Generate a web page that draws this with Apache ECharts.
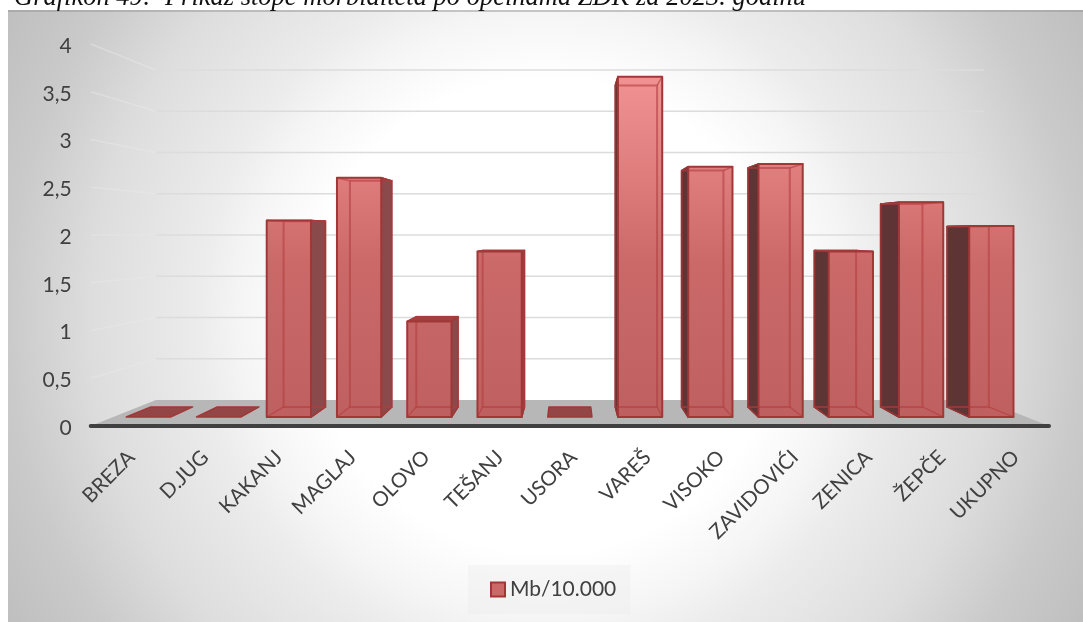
<!DOCTYPE html>
<html>
<head>
<meta charset="utf-8">
<style>html,body{margin:0;padding:0;background:#fff}#c{width:1083px;height:622px}</style>
<script src="https://cdn.jsdelivr.net/npm/echarts@6/dist/echarts.min.js"></script>
</head>
<body>
<div id="c"></div>
<script>
const titleText = 'Grafikon 49:  Prikaz stope morbiditeta po općinama ZDK za 2023. godinu';
const seriesName = 'Mb/10.000';
const categories = ['BREZA','D.JUG','KAKANJ','MAGLAJ','OLOVO','TEŠANJ','USORA','VAREŠ','VISOKO','ZAVIDOVIĆI','ZENICA','ŽEPČE','UKUPNO'];
const values = [0, 0, 2.16, 2.63, 1.05, 1.82, 0, 3.74, 2.75, 2.78, 1.82, 2.36, 2.10];
const yTicks = [0, 0.5, 1, 1.5, 2, 2.5, 3, 3.5, 4];

const BACK_S = 0.864, BAR_FRONT_S = 0.953, BAR_BACK_S = 0.90, HORIZON_VALUE = 2, BAR_FRAC = 0.315;

const chart = echarts.init(document.getElementById('c'), null, {renderer:'canvas'});

function projector(params, api) {
  const cs = params.coordSys;
  const cx = cs.x + cs.width / 2;
  const hy = api.coord([0, HORIZON_VALUE])[1];
  return (X, Y, s) => [cx + (X - cx) * s, hy + (Y - hy) * s];
}

const frontFill = new echarts.graphic.LinearGradient(0, 77, 0, 417, [
  {offset:0, color:'#f19292'}, {offset:0.3, color:'#de7c7c'},
  {offset:0.55, color:'#cb6969'}, {offset:1, color:'#bf6060'}], true);

function renderBar(params, api) {
  const P = projector(params, api);
  const c = api.coord([api.value(0), api.value(1)]);
  const y0 = api.coord([api.value(0), 0])[1];
  const hw = api.size([1, 0])[0] * BAR_FRAC;
  const L = c[0] - hw, R = c[0] + hw, T = c[1];
  const f = (X, Y) => P(X, Y, BAR_FRONT_S), b = (X, Y) => P(X, Y, BAR_BACK_S);
  const edge = '#a03838', inner = 'rgba(178,62,62,0.6)';
  const kids = [];
  const poly = (pts, fill, stroke, w) => kids.push({type:'polygon', shape:{points:pts},
    style:{fill:fill, stroke:stroke, lineWidth:w, lineJoin:'round'}});
  const line = (pts, stroke, w) => kids.push({type:'polyline', shape:{points:pts},
    style:{fill:null, stroke:stroke, lineWidth:w}});
  poly([f(L,y0), f(R,y0), b(R,y0), b(L,y0)], '#944646', edge, 1.5);
  if (api.value(1) > 0) {
    poly([f(L,T), f(R,T), b(R,T), b(L,T)], '#9c4444', edge, 1.5);
    const leftSide = b(L,y0)[0] < f(L,y0)[0];
    const rightSide = b(R,y0)[0] > f(R,y0)[0];
    if (leftSide) poly([f(L,y0), b(L,y0), b(L,T), f(L,T)], '#5f3435', '#6e2a2a', 1.5);
    if (rightSide) poly([f(R,y0), b(R,y0), b(R,T), f(R,T)], '#8a4a4b', '#8c3535', 1.5);
    poly([f(L,y0), f(R,y0), f(R,T), f(L,T)], frontFill, null, 0);
    line([b(L,T), b(L,y0), b(R,y0), b(R,T), b(L,T)], inner, 2);
    line([f(L,y0), b(L,y0)], inner, 1.5);
    line([f(R,y0), b(R,y0)], inner, 1.5);
    line([f(L,T), b(L,T)], inner, 1.5);
    line([f(R,T), b(R,T)], inner, 1.5);
    poly([f(L,y0), f(R,y0), f(R,T), f(L,T)], null, edge, 2);
  }
  return {type:'group', children:kids};
}

function renderFloor(params, api) {
  const P = projector(params, api);
  const cs = params.coordSys, y0 = api.coord([0, api.value(0)])[1];
  const l = cs.x, r = cs.x + cs.width;
  return {type:'polygon', shape:{points:[[l,y0],[r,y0],P(r,y0,BACK_S),P(l,y0,BACK_S)]},
    style:{fill:'#b7b7b7'}};
}

function renderGrid(params, api) {
  const P = projector(params, api);
  const cs = params.coordSys, y = api.coord([0, api.value(0)])[1];
  const l = cs.x, r = cs.x + cs.width;
  return {type:'group', children:[
    {type:'polyline', shape:{points:[[l,y],P(l,y,BACK_S)]}, style:{fill:null, stroke:'rgba(232,232,232,0.45)', lineWidth:1.5}},
    {type:'polyline', shape:{points:[P(l,y,BACK_S),P(r,y,BACK_S)]}, style:{fill:null, stroke:'#dcdcdc', lineWidth:1.5}}
  ]};
}

chart.setOption({
  animation:false,
  backgroundColor:'#fff',
  textStyle:{fontFamily:'Lato'},
  title:{text:titleText, left:9, top:-20,
    textStyle:{fontFamily:'Liberation Serif', fontStyle:'italic', fontWeight:'normal', fontSize:26.5, color:'#111'}},
  graphic:[{type:'rect', z:-10, silent:true, shape:{x:8,y:10,width:1075,height:612},
    style:{fill:new echarts.graphic.RadialGradient(545,316,640,[
      {offset:0,color:'#fff'},{offset:0.37,color:'#fff'},{offset:0.475,color:'#f5f5f5'},
      {offset:0.54,color:'#ececec'},{offset:0.71,color:'#dddddd'},{offset:0.84,color:'#cacaca'},{offset:1,color:'#bcbcbc'}],true)}},
    {type:'rect', z:-9, silent:true, shape:{x:8,y:10,width:1075,height:2}, style:{fill:'rgba(150,150,150,0.5)'}}],
  grid:{left:90.7, right:34, top:44, bottom:196, containLabel:false},
  legend:{data:[seriesName], left:468, top:565, padding:[14,14,14,22], itemWidth:14, itemHeight:14, itemGap:6,
    backgroundColor:'rgba(232,232,232,0.3)', icon:'rect',
    textStyle:{fontFamily:'Lato', fontSize:21, color:'#404040'}},
  xAxis:{type:'category', data:categories, axisTick:{show:false}, z:4,
    axisLine:{show:true, onZero:true, lineStyle:{color:'#404040', width:4, cap:'round'}},
    axisLabel:{rotate:45, interval:0, margin:24, fontSize:20.5, color:'#404040', verticalAlign:'top', padding:[-5,0,0,0]}},
  yAxis:{type:'value', min:0, max:4, interval:0.5, splitLine:{show:false}, axisLine:{show:false}, axisTick:{show:false},
    axisLabel:{margin:19, fontSize:21, color:'#404040', formatter:v=>String(v).replace('.',','), verticalAlign:'top', padding:[-8.5,0,0,0]}},
  series:[
    {type:'custom', name:'floor', silent:true, clip:false, z:1, data:[0], encode:{y:0}, renderItem:renderFloor, legendHoverLink:false},
    {type:'custom', name:'grid', silent:true, clip:false, z:2, data:yTicks.slice(1), encode:{y:0}, renderItem:renderGrid},
    {type:'custom', name:seriesName, clip:false, z:3, encode:{x:0,y:1},
      itemStyle:{color:'#cb6868', borderColor:'#a23636', borderWidth:2},
      data:values.map((v,i)=>[i,v]), renderItem:renderBar}
  ]
});
</script>
</body>
</html>
